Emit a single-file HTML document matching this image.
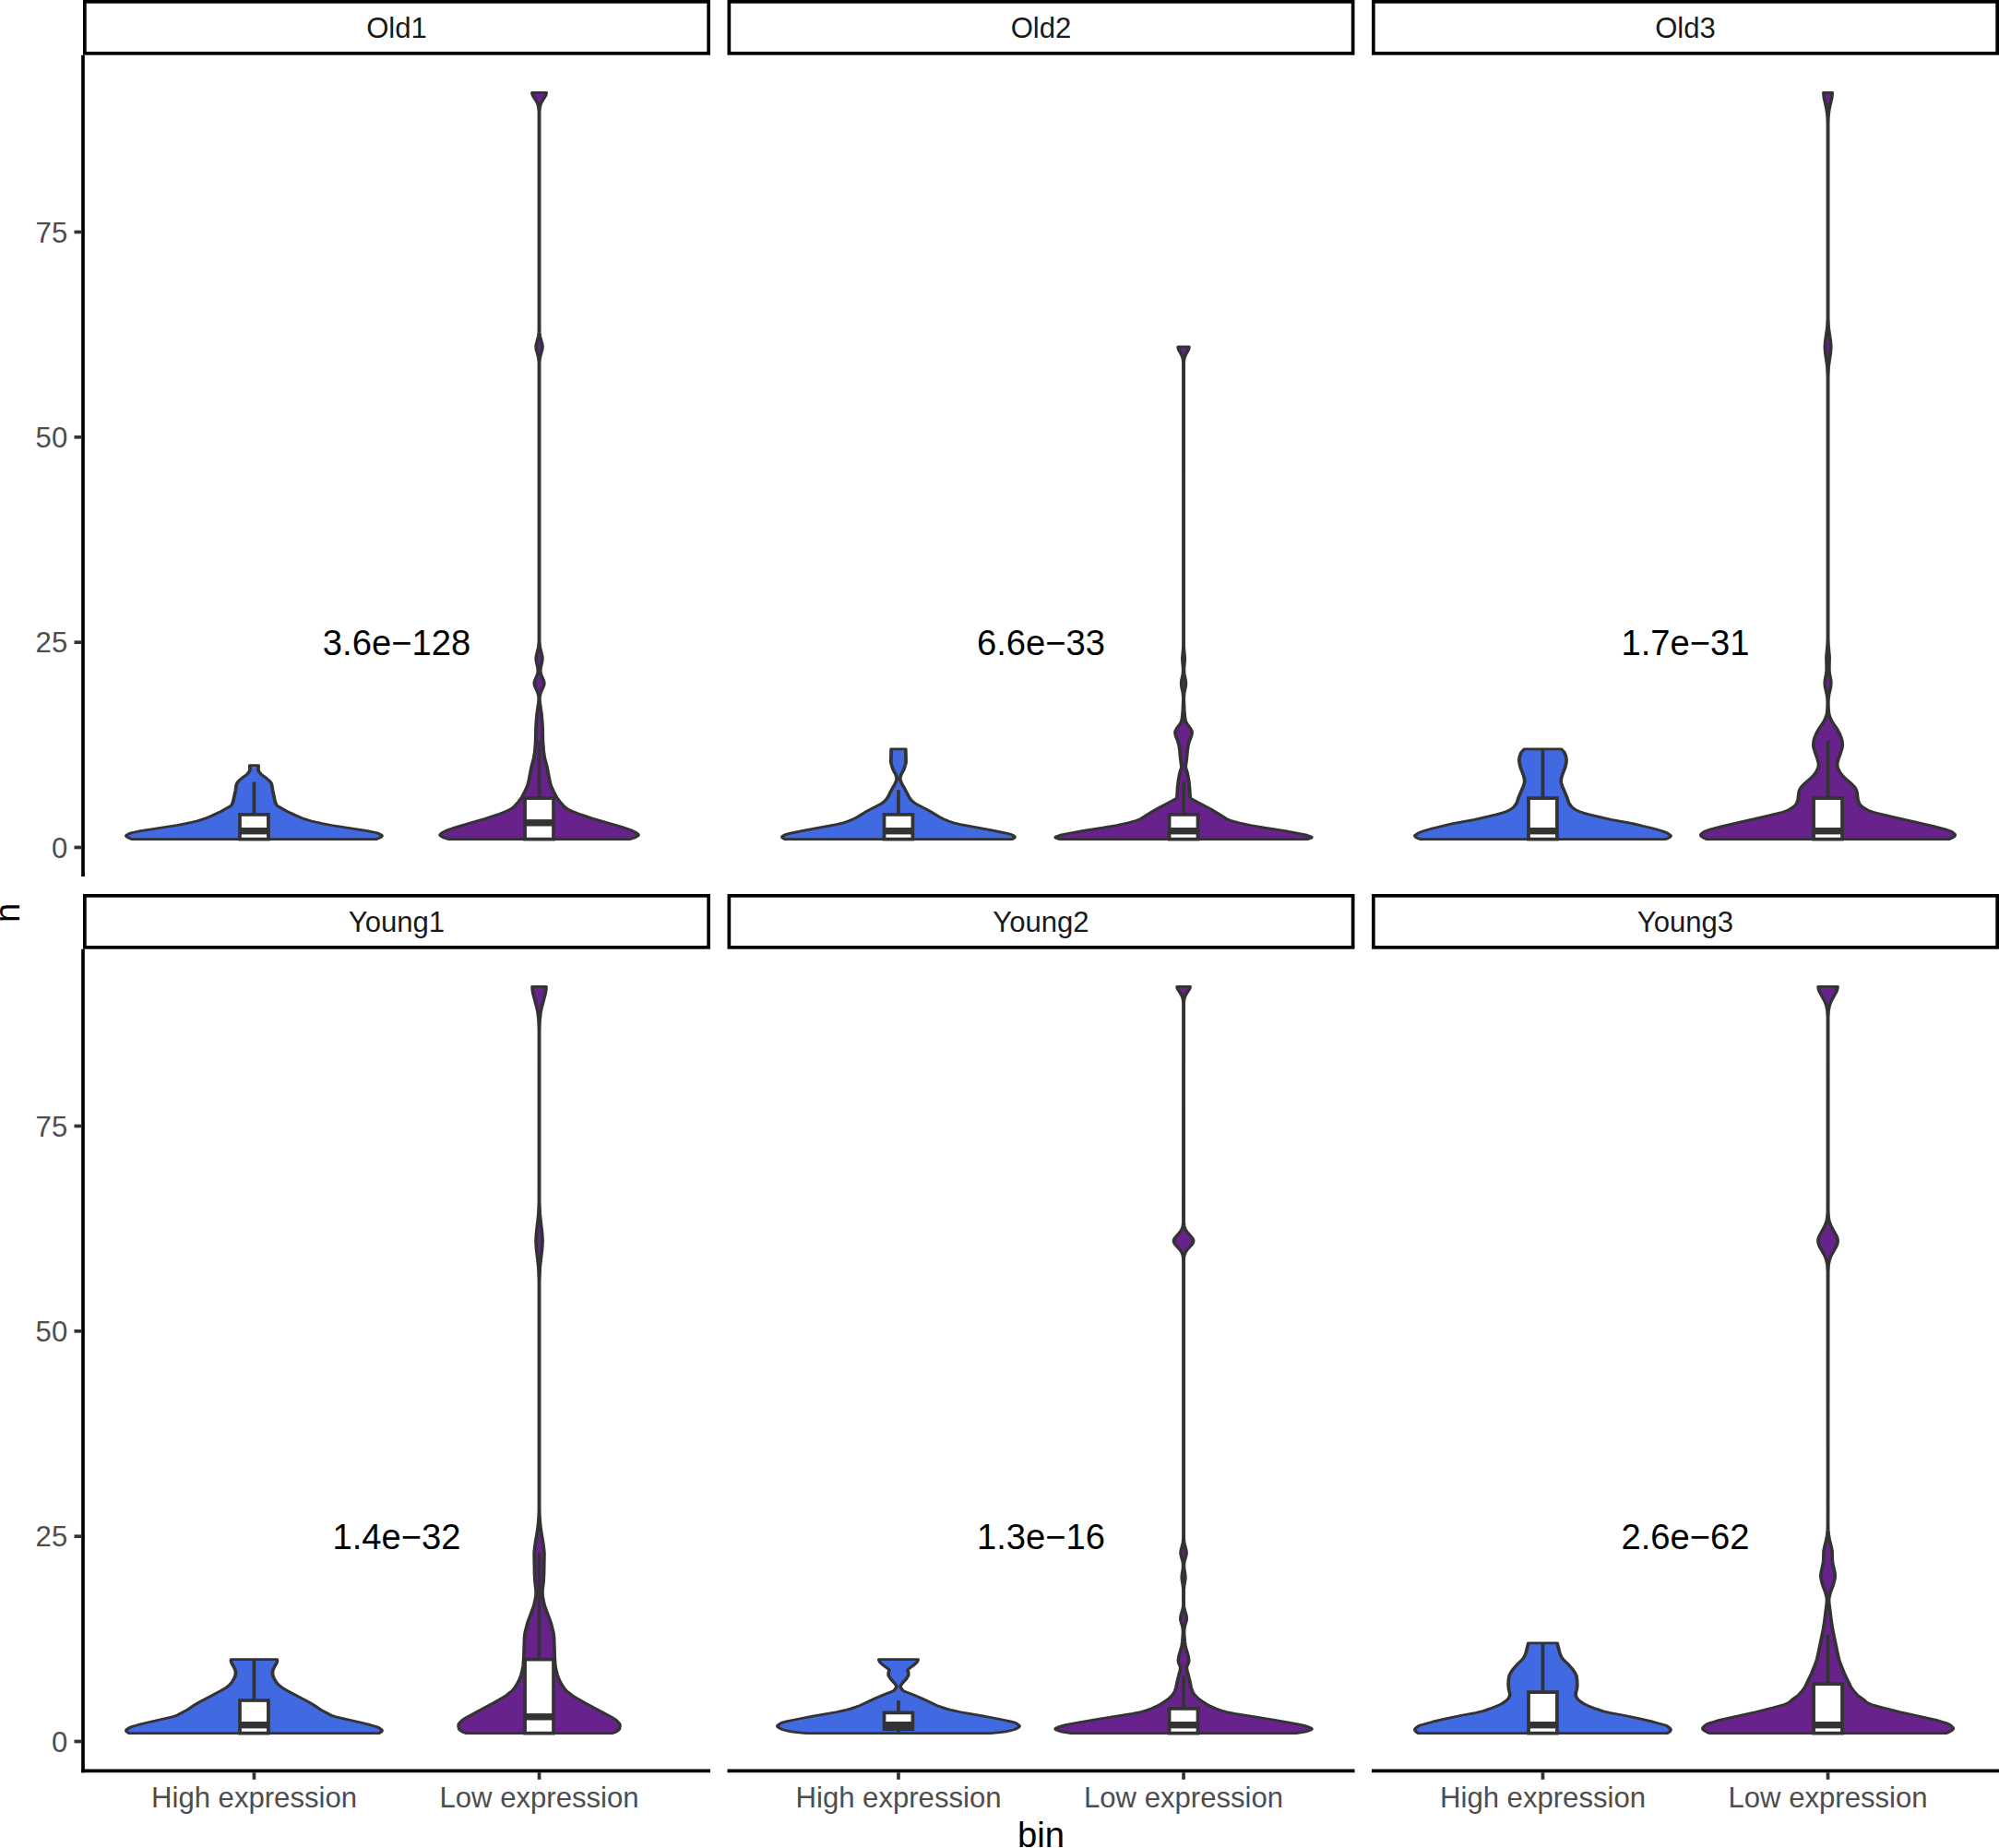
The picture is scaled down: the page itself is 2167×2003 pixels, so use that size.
<!DOCTYPE html>
<html lang="en">
<head>
<meta charset="utf-8">
<title>Violin plots of n by expression bin</title>
<style>
html,body{margin:0;padding:0;background:#fff;}
body{width:2167px;height:2003px;overflow:hidden;}
svg{display:block;}
</style>
</head>
<body>
<svg width="2167" height="2003" viewBox="0 0 2167 2003" role="img" aria-label="Violin plots of n by expression bin for six samples" font-family='"Liberation Sans", sans-serif'>
<rect width="2167" height="2003" fill="#fff"/>
<g id="Old1">
<path transform="scale(1.32,1)" d="M108.68,909.6 L106.55,908.7 L105.19,907.8 L104.12,906.9 L103.68,906.0 L104.08,905.2 L106.44,903.4 L108.62,902.5 L115.55,900.7 L145.13,894.5 L152.79,892.7 L161.60,890.0 L167.95,887.4 L174.61,883.8 L180.29,880.3 L188.94,874.0 L189.81,873.1 L190.35,872.3 L191.01,870.5 L191.46,868.7 L193.50,856.2 L194.12,850.9 L194.49,849.1 L195.42,847.4 L196.67,845.6 L200.02,842.0 L202.79,839.4 L204.46,836.7 L205.16,834.9 L205.27,834.0 L205.19,829.6 L212.16,829.6 L212.09,834.0 L212.19,834.9 L212.89,836.7 L214.56,839.4 L217.34,842.0 L220.69,845.6 L221.94,847.4 L222.87,849.1 L223.24,850.9 L223.86,856.2 L225.89,868.7 L226.34,870.5 L227.00,872.3 L227.55,873.1 L228.41,874.0 L237.07,880.3 L242.75,883.8 L249.40,887.4 L255.76,890.0 L264.56,892.7 L272.23,894.5 L301.81,900.7 L308.73,902.5 L310.91,903.4 L313.27,905.2 L313.68,906.0 L313.24,906.9 L312.16,907.8 L310.80,908.7 L308.68,909.6Z" fill="#4169E1" stroke="#333333" stroke-width="2.803" stroke-linejoin="round"/>
<path d="M275.45,882.9V847.4M275.45,909.6V909.6" stroke="#333333" stroke-width="3.7" fill="none"/>
<rect x="260.00" y="882.9" width="30.91" height="26.7" fill="#fff" stroke="#333333" stroke-width="3.7" stroke-linejoin="miter"/>
<path d="M260.00,900.7H290.91" stroke="#333333" stroke-width="7.4" fill="none"/>
<path transform="scale(1.32,1)" d="M368.60,909.6 L363.95,907.8 L361.90,906.0 L361.45,905.2 L361.65,904.3 L362.38,903.4 L364.45,901.6 L367.39,899.8 L375.11,896.3 L398.66,887.4 L408.76,882.9 L415.45,879.4 L418.41,877.6 L420.74,875.8 L423.05,873.1 L426.00,868.7 L428.41,864.3 L430.68,858.9 L433.19,851.8 L434.12,847.4 L436.59,830.5 L438.43,821.6 L439.26,814.5 L439.89,803.8 L440.13,788.7 L440.59,779.8 L441.02,773.5 L442.41,761.1 L442.61,757.5 L442.44,754.9 L442.02,752.2 L441.30,749.5 L439.18,743.3 L438.89,741.5 L438.89,739.8 L439.41,737.1 L441.45,730.9 L441.90,728.2 L441.84,724.6 L440.47,716.6 L440.32,713.1 L440.60,710.4 L442.29,701.5 L442.76,695.3 L442.76,394.7 L442.70,392.0 L442.39,388.5 L441.96,385.8 L440.46,378.7 L440.28,375.1 L440.60,372.5 L442.26,364.5 L442.64,360.9 L442.76,357.4 L442.76,120.8 L442.44,116.4 L441.69,112.8 L440.71,110.1 L437.79,103.9 L437.27,102.1 L437.08,100.3 L448.60,100.3 L448.41,102.1 L447.89,103.9 L444.97,110.1 L443.99,112.8 L443.24,116.4 L442.91,120.8 L442.91,357.4 L443.03,360.9 L443.41,364.5 L445.07,372.5 L445.39,375.1 L445.22,378.7 L443.72,385.8 L443.29,388.5 L442.98,392.0 L442.91,394.7 L442.92,695.3 L443.39,701.5 L445.08,710.4 L445.36,713.1 L445.21,716.6 L443.83,724.6 L443.78,728.2 L444.23,730.9 L446.26,737.1 L446.78,739.8 L446.78,741.5 L446.49,743.3 L444.38,749.5 L443.66,752.2 L443.24,754.9 L443.06,757.5 L443.26,761.1 L444.66,773.5 L445.09,779.8 L445.54,788.7 L445.78,803.8 L446.42,814.5 L447.25,821.6 L449.09,830.5 L451.56,847.4 L452.48,851.8 L454.99,858.9 L457.26,864.3 L459.67,868.7 L462.63,873.1 L464.94,875.8 L467.27,877.6 L470.23,879.4 L476.92,882.9 L487.02,887.4 L510.56,896.3 L518.28,899.8 L521.23,901.6 L523.29,903.4 L524.02,904.3 L524.22,905.2 L523.77,906.0 L521.72,907.8 L517.08,909.6Z" fill="#68228B" stroke="#333333" stroke-width="2.803" stroke-linejoin="round"/>
<path d="M584.55,865.1V802.9M584.55,909.6V909.6" stroke="#333333" stroke-width="3.7" fill="none"/>
<rect x="569.09" y="865.1" width="30.91" height="44.5" fill="#fff" stroke="#333333" stroke-width="3.7" stroke-linejoin="miter"/>
<path d="M569.09,891.8H600.00" stroke="#333333" stroke-width="7.4" fill="none"/>
<text x="430.0" y="709.9" font-size="38.2" text-anchor="middle" fill="#000">3.6e−128</text>
<rect x="91.85" y="1.85" width="676.30" height="56.00" fill="#fff" stroke="#000" stroke-width="3.7"/>
<text x="430.0" y="41.0" font-size="31.1" text-anchor="middle" fill="#1A1A1A">Old1</text>
</g>
<g id="Old2">
<path transform="scale(1.32,1)" d="M644.66,909.6 L643.24,908.7 L642.47,907.8 L642.36,906.9 L643.03,906.0 L645.77,904.3 L648.36,903.4 L661.27,899.8 L687.01,893.6 L692.77,891.8 L696.72,890.0 L699.89,888.3 L703.96,885.6 L711.69,879.4 L723.33,871.4 L726.12,868.7 L727.57,866.9 L729.04,864.3 L732.47,855.4 L734.84,850.0 L736.05,846.5 L736.44,844.7 L736.41,842.9 L735.63,839.4 L733.37,834.0 L731.90,827.8 L731.67,825.1 L731.94,811.8 L743.75,811.8 L744.02,825.1 L743.79,827.8 L742.32,834.0 L740.06,839.4 L739.28,842.9 L739.25,844.7 L739.64,846.5 L740.84,850.0 L743.21,855.4 L746.65,864.3 L748.12,866.9 L749.57,868.7 L752.36,871.4 L764.00,879.4 L771.73,885.6 L775.80,888.3 L778.97,890.0 L782.92,891.8 L788.68,893.6 L814.42,899.8 L827.33,903.4 L829.92,904.3 L832.66,906.0 L833.33,906.9 L833.22,907.8 L832.45,908.7 L831.03,909.6Z" fill="#4169E1" stroke="#333333" stroke-width="2.803" stroke-linejoin="round"/>
<path d="M973.95,882.9V856.2M973.95,909.6V909.6" stroke="#333333" stroke-width="3.7" fill="none"/>
<rect x="958.50" y="882.9" width="30.91" height="26.7" fill="#fff" stroke="#333333" stroke-width="3.7" stroke-linejoin="miter"/>
<path d="M958.50,900.7H989.41" stroke="#333333" stroke-width="7.4" fill="none"/>
<path transform="scale(1.32,1)" d="M870.49,909.6 L868.02,908.7 L866.84,907.8 L867.07,906.9 L870.75,905.2 L888.62,900.7 L905.55,897.2 L917.07,894.5 L926.63,891.8 L933.62,889.2 L936.89,887.4 L944.39,881.1 L950.11,876.7 L956.28,872.3 L965.49,866.0 L966.30,865.1 L966.61,864.3 L967.05,854.5 L967.77,845.6 L968.94,837.6 L970.28,832.2 L970.37,830.5 L969.51,822.5 L968.91,813.6 L968.40,809.1 L967.46,803.8 L965.59,797.6 L965.11,794.0 L965.38,792.2 L966.31,789.6 L968.82,785.1 L970.14,782.4 L970.41,781.5 L970.90,778.0 L971.49,770.0 L971.89,757.5 L971.56,751.3 L970.45,744.2 L970.20,741.5 L970.34,738.0 L971.45,730.9 L971.73,727.3 L971.69,723.7 L971.17,716.6 L971.10,713.1 L971.79,703.3 L971.93,698.8 L971.91,392.9 L971.62,389.4 L971.07,386.7 L970.16,384.0 L968.27,379.6 L967.76,377.8 L967.57,376.0 L976.44,376.0 L976.25,377.8 L975.74,379.6 L973.85,384.0 L972.94,386.7 L972.39,389.4 L972.09,392.9 L972.08,698.8 L972.21,703.3 L972.90,713.1 L972.83,716.6 L972.31,723.7 L972.28,727.3 L972.56,730.9 L973.67,738.0 L973.81,741.5 L973.56,744.2 L972.44,751.3 L972.12,757.5 L972.52,770.0 L973.11,778.0 L973.60,781.5 L973.87,782.4 L975.19,785.1 L977.70,789.6 L978.63,792.2 L978.90,794.0 L978.42,797.6 L976.55,803.8 L975.61,809.1 L975.10,813.6 L974.50,822.5 L973.64,830.5 L973.73,832.2 L975.06,837.6 L976.24,845.6 L976.95,854.5 L977.39,864.3 L977.71,865.1 L978.52,866.0 L987.73,872.3 L993.90,876.7 L999.62,881.1 L1007.11,887.4 L1010.38,889.2 L1017.38,891.8 L1026.93,894.5 L1038.46,897.2 L1055.39,900.7 L1073.25,905.2 L1076.94,906.9 L1077.16,907.8 L1075.98,908.7 L1073.52,909.6Z" fill="#68228B" stroke="#333333" stroke-width="2.803" stroke-linejoin="round"/>
<path d="M1283.05,882.9V847.4M1283.05,909.6V909.6" stroke="#333333" stroke-width="3.7" fill="none"/>
<rect x="1267.59" y="882.9" width="30.91" height="26.7" fill="#fff" stroke="#333333" stroke-width="3.7" stroke-linejoin="miter"/>
<path d="M1267.59,900.7H1298.50" stroke="#333333" stroke-width="7.4" fill="none"/>
<text x="1128.5" y="709.9" font-size="38.2" text-anchor="middle" fill="#000">6.6e−33</text>
<rect x="790.35" y="1.85" width="676.30" height="56.00" fill="#fff" stroke="#000" stroke-width="3.7"/>
<text x="1128.5" y="41.0" font-size="31.1" text-anchor="middle" fill="#1A1A1A">Old2</text>
</g>
<g id="Old3">
<path transform="scale(1.32,1)" d="M1166.25,909.6 L1164.45,908.7 L1163.14,907.8 L1162.32,906.9 L1162.01,906.0 L1162.29,905.2 L1164.21,903.4 L1165.40,902.5 L1168.98,900.7 L1176.04,898.0 L1193.19,892.7 L1210.96,888.3 L1228.91,882.9 L1233.69,881.1 L1237.31,879.4 L1240.16,877.6 L1242.26,875.8 L1243.60,874.0 L1245.56,870.5 L1247.13,864.3 L1250.85,852.7 L1252.02,848.2 L1252.01,845.6 L1251.68,842.9 L1250.87,839.4 L1248.73,832.2 L1247.91,827.8 L1247.58,824.2 L1247.89,820.7 L1249.05,816.2 L1249.41,815.3 L1251.86,811.8 L1282.16,811.8 L1284.61,815.3 L1284.98,816.2 L1286.13,820.7 L1286.44,824.2 L1286.11,827.8 L1285.29,832.2 L1283.15,839.4 L1282.34,842.9 L1282.01,845.6 L1282.00,848.2 L1283.17,852.7 L1286.89,864.3 L1288.46,870.5 L1290.42,874.0 L1291.77,875.8 L1293.86,877.6 L1296.71,879.4 L1300.33,881.1 L1305.11,882.9 L1323.06,888.3 L1340.84,892.7 L1357.98,898.0 L1365.05,900.7 L1368.62,902.5 L1369.82,903.4 L1371.73,905.2 L1372.01,906.0 L1371.70,906.9 L1370.89,907.8 L1369.57,908.7 L1367.77,909.6Z" fill="#4169E1" stroke="#333333" stroke-width="2.803" stroke-linejoin="round"/>
<path d="M1672.45,865.1V811.8M1672.45,909.6V909.6" stroke="#333333" stroke-width="3.7" fill="none"/>
<rect x="1657.00" y="865.1" width="30.91" height="44.5" fill="#fff" stroke="#333333" stroke-width="3.7" stroke-linejoin="miter"/>
<path d="M1657.00,900.7H1687.91" stroke="#333333" stroke-width="7.4" fill="none"/>
<path transform="scale(1.32,1)" d="M1401.55,909.6 L1398.63,907.8 L1397.69,906.9 L1397.10,906.0 L1396.86,905.2 L1397.01,904.3 L1397.57,903.4 L1399.41,901.6 L1400.69,900.7 L1404.92,898.9 L1414.95,895.4 L1447.26,885.6 L1463.97,880.3 L1466.09,879.4 L1469.12,877.6 L1472.42,874.9 L1474.17,873.1 L1475.23,871.4 L1476.40,867.8 L1476.70,866.0 L1477.27,858.9 L1477.95,856.2 L1478.94,853.6 L1480.69,850.9 L1483.57,847.4 L1487.54,842.9 L1489.42,840.2 L1491.54,836.7 L1493.12,832.2 L1493.62,829.6 L1493.45,826.9 L1492.53,822.5 L1491.04,817.1 L1489.40,810.0 L1489.25,807.3 L1489.58,802.9 L1490.32,799.3 L1491.71,794.9 L1493.91,789.6 L1497.70,782.4 L1499.64,777.1 L1500.41,773.5 L1500.87,767.3 L1500.98,762.0 L1500.90,758.4 L1500.40,753.1 L1498.90,744.2 L1498.66,739.8 L1498.97,736.2 L1499.90,730.0 L1500.20,726.4 L1499.98,712.2 L1500.88,698.8 L1501.09,692.6 L1501.09,407.2 L1500.66,396.5 L1499.07,382.3 L1498.75,376.0 L1499.07,369.8 L1500.66,355.6 L1501.09,345.8 L1501.09,133.2 L1500.92,127.0 L1500.53,121.7 L1499.96,117.2 L1498.00,105.7 L1497.65,100.3 L1504.69,100.3 L1504.34,105.7 L1502.38,117.2 L1501.81,121.7 L1501.42,127.0 L1501.25,133.2 L1501.25,345.8 L1501.68,355.6 L1503.27,369.8 L1503.59,376.0 L1503.27,382.3 L1501.68,396.5 L1501.25,407.2 L1501.25,692.6 L1501.46,698.8 L1502.36,712.2 L1502.14,726.4 L1502.44,730.0 L1503.37,736.2 L1503.68,739.8 L1503.45,744.2 L1501.94,753.1 L1501.44,758.4 L1501.36,762.0 L1501.47,767.3 L1501.93,773.5 L1502.70,777.1 L1504.64,782.4 L1508.44,789.6 L1510.63,794.9 L1512.02,799.3 L1512.76,802.9 L1513.10,807.3 L1512.94,810.0 L1511.30,817.1 L1509.81,822.5 L1508.89,826.9 L1508.73,829.6 L1509.23,832.2 L1510.81,836.7 L1512.93,840.2 L1514.81,842.9 L1518.77,847.4 L1521.65,850.9 L1523.40,853.6 L1524.39,856.2 L1525.07,858.9 L1525.64,866.0 L1525.94,867.8 L1527.11,871.4 L1528.17,873.1 L1529.93,874.9 L1533.22,877.6 L1536.26,879.4 L1538.37,880.3 L1555.08,885.6 L1587.40,895.4 L1597.42,898.9 L1601.65,900.7 L1602.93,901.6 L1604.77,903.4 L1605.33,904.3 L1605.48,905.2 L1605.24,906.0 L1604.65,906.9 L1603.71,907.8 L1600.79,909.6Z" fill="#68228B" stroke="#333333" stroke-width="2.803" stroke-linejoin="round"/>
<path d="M1981.55,865.1V802.9M1981.55,909.6V909.6" stroke="#333333" stroke-width="3.7" fill="none"/>
<rect x="1966.09" y="865.1" width="30.91" height="44.5" fill="#fff" stroke="#333333" stroke-width="3.7" stroke-linejoin="miter"/>
<path d="M1966.09,900.7H1997.00" stroke="#333333" stroke-width="7.4" fill="none"/>
<text x="1827.0" y="709.9" font-size="38.2" text-anchor="middle" fill="#000">1.7e−31</text>
<rect x="1488.85" y="1.85" width="676.30" height="56.00" fill="#fff" stroke="#000" stroke-width="3.7"/>
<text x="1827.0" y="41.0" font-size="31.1" text-anchor="middle" fill="#1A1A1A">Old3</text>
</g>
<g id="Young1">
<path transform="scale(1.32,1)" d="M106.03,1878.6 L104.81,1877.7 L104.02,1876.8 L103.69,1875.9 L103.86,1875.0 L104.50,1874.2 L106.56,1872.4 L108.19,1871.5 L113.04,1869.7 L121.04,1867.0 L141.67,1860.8 L143.95,1859.9 L145.63,1859.0 L153.30,1853.7 L159.24,1848.4 L163.71,1844.8 L181.64,1832.4 L186.14,1828.8 L188.54,1826.1 L190.32,1823.5 L192.34,1819.0 L193.41,1815.5 L193.49,1811.9 L193.17,1810.1 L192.31,1807.5 L190.73,1803.9 L190.14,1802.1 L189.75,1800.3 L189.85,1798.6 L227.50,1798.6 L227.60,1800.3 L227.22,1802.1 L226.63,1803.9 L225.04,1807.5 L224.19,1810.1 L223.86,1811.9 L223.95,1815.5 L225.01,1819.0 L227.03,1823.5 L228.81,1826.1 L231.21,1828.8 L235.72,1832.4 L253.65,1844.8 L258.12,1848.4 L264.06,1853.7 L271.73,1859.0 L273.41,1859.9 L275.69,1860.8 L296.32,1867.0 L304.31,1869.7 L309.17,1871.5 L310.80,1872.4 L312.85,1874.2 L313.50,1875.0 L313.67,1875.9 L313.33,1876.8 L312.55,1877.7 L311.33,1878.6Z" fill="#4169E1" stroke="#333333" stroke-width="2.803" stroke-linejoin="round"/>
<path d="M275.45,1843.0V1798.6M275.45,1878.6V1878.6" stroke="#333333" stroke-width="3.7" fill="none"/>
<rect x="260.00" y="1843.0" width="30.91" height="35.6" fill="#fff" stroke="#333333" stroke-width="3.7" stroke-linejoin="miter"/>
<path d="M260.00,1869.7H290.91" stroke="#333333" stroke-width="7.4" fill="none"/>
<path transform="scale(1.32,1)" d="M382.99,1878.6 L380.89,1877.7 L379.35,1876.8 L377.63,1875.0 L377.17,1874.2 L376.67,1871.5 L376.60,1869.7 L376.80,1868.8 L377.20,1867.9 L379.03,1865.3 L380.64,1863.5 L382.84,1861.7 L405.42,1845.7 L412.44,1840.4 L415.63,1837.7 L419.19,1834.1 L420.73,1832.4 L422.00,1830.6 L423.88,1827.0 L425.76,1822.6 L426.98,1819.0 L427.94,1815.5 L429.03,1810.1 L429.70,1805.7 L430.13,1797.7 L430.73,1774.6 L431.26,1769.2 L433.16,1759.4 L438.60,1739.9 L439.76,1732.8 L440.23,1728.3 L440.24,1723.9 L439.44,1715.0 L439.05,1706.1 L438.74,1683.9 L439.02,1679.4 L439.72,1672.3 L441.33,1659.8 L441.95,1653.6 L442.56,1643.8 L442.76,1636.7 L442.76,1387.7 L442.29,1373.5 L440.50,1353.0 L440.19,1345.0 L440.50,1337.0 L442.29,1316.6 L442.75,1303.2 L442.76,1115.6 L442.47,1105.8 L441.78,1097.8 L440.80,1091.6 L437.89,1077.3 L437.34,1072.9 L437.19,1069.3 L448.48,1069.3 L448.34,1072.9 L447.78,1077.3 L444.87,1091.6 L443.90,1097.8 L443.20,1105.8 L442.91,1115.6 L442.92,1303.2 L443.38,1316.6 L445.18,1337.0 L445.49,1345.0 L445.18,1353.0 L443.38,1373.5 L442.91,1387.7 L442.91,1636.7 L443.12,1643.8 L443.72,1653.6 L444.34,1659.8 L445.96,1672.3 L446.65,1679.4 L446.94,1683.9 L446.62,1706.1 L446.23,1715.0 L445.44,1723.9 L445.45,1728.3 L445.91,1732.8 L447.07,1739.9 L452.52,1759.4 L454.42,1769.2 L454.94,1774.6 L455.55,1797.7 L455.97,1805.7 L456.65,1810.1 L457.73,1815.5 L458.70,1819.0 L459.92,1822.6 L461.79,1827.0 L463.67,1830.6 L464.94,1832.4 L466.48,1834.1 L470.05,1837.7 L473.24,1840.4 L480.26,1845.7 L502.83,1861.7 L505.04,1863.5 L506.64,1865.3 L508.47,1867.9 L508.87,1868.8 L509.08,1869.7 L509.00,1871.5 L508.51,1874.2 L508.04,1875.0 L506.33,1876.8 L504.79,1877.7 L502.69,1878.6Z" fill="#68228B" stroke="#333333" stroke-width="2.803" stroke-linejoin="round"/>
<path d="M584.55,1798.6V1683.0M584.55,1878.6V1878.6" stroke="#333333" stroke-width="3.7" fill="none"/>
<rect x="569.09" y="1798.6" width="30.91" height="80.0" fill="#fff" stroke="#333333" stroke-width="3.7" stroke-linejoin="miter"/>
<path d="M569.09,1860.8H600.00" stroke="#333333" stroke-width="7.4" fill="none"/>
<text x="430.0" y="1678.9" font-size="38.2" text-anchor="middle" fill="#000">1.4e−32</text>
<rect x="91.85" y="970.85" width="676.30" height="56.00" fill="#fff" stroke="#000" stroke-width="3.7"/>
<text x="430.0" y="1010.1" font-size="31.1" text-anchor="middle" fill="#1A1A1A">Young1</text>
</g>
<g id="Young2">
<path transform="scale(1.32,1)" d="M662.09,1878.6 L654.51,1877.7 L649.73,1876.8 L646.35,1875.9 L643.69,1875.0 L641.71,1874.2 L639.35,1872.4 L638.66,1871.5 L638.57,1870.6 L639.03,1869.7 L640.94,1867.9 L642.43,1867.0 L644.92,1866.2 L654.28,1863.5 L668.59,1859.9 L687.62,1855.5 L693.91,1853.7 L699.02,1851.9 L703.04,1850.1 L706.48,1848.4 L718.01,1841.3 L725.96,1836.8 L732.96,1833.3 L734.07,1832.4 L734.75,1831.5 L736.15,1828.8 L736.23,1827.9 L736.08,1827.0 L734.66,1824.4 L731.51,1819.9 L729.92,1816.4 L729.66,1815.5 L729.72,1812.8 L730.34,1810.1 L729.82,1809.2 L724.45,1803.9 L723.03,1802.1 L722.16,1800.3 L721.78,1798.6 L753.90,1798.6 L753.52,1800.3 L752.66,1802.1 L751.24,1803.9 L745.87,1809.2 L745.35,1810.1 L745.97,1812.8 L746.02,1815.5 L745.77,1816.4 L744.18,1819.9 L741.03,1824.4 L739.61,1827.0 L739.45,1827.9 L739.54,1828.8 L740.94,1831.5 L741.62,1832.4 L742.73,1833.3 L749.73,1836.8 L757.68,1841.3 L769.21,1848.4 L772.65,1850.1 L776.67,1851.9 L781.77,1853.7 L788.07,1855.5 L807.10,1859.9 L821.41,1863.5 L830.76,1866.2 L833.26,1867.0 L834.74,1867.9 L836.66,1869.7 L837.12,1870.6 L837.03,1871.5 L836.34,1872.4 L833.98,1874.2 L832.00,1875.0 L829.34,1875.9 L825.96,1876.8 L821.18,1877.7 L813.60,1878.6Z" fill="#4169E1" stroke="#333333" stroke-width="2.803" stroke-linejoin="round"/>
<path d="M973.95,1856.4V1843.0M973.95,1874.2V1878.6" stroke="#333333" stroke-width="3.7" fill="none"/>
<rect x="958.50" y="1856.4" width="30.91" height="17.8" fill="#fff" stroke="#333333" stroke-width="3.7" stroke-linejoin="miter"/>
<path d="M958.50,1869.7H989.41" stroke="#333333" stroke-width="7.4" fill="none"/>
<path transform="scale(1.32,1)" d="M879.58,1878.6 L871.37,1876.8 L869.14,1875.9 L867.57,1875.0 L866.77,1874.2 L867.13,1873.3 L870.07,1871.5 L872.21,1870.6 L875.07,1869.7 L885.23,1867.0 L900.56,1863.5 L930.08,1857.3 L936.89,1855.5 L941.59,1853.7 L945.36,1851.9 L949.95,1849.3 L953.68,1846.6 L956.90,1843.9 L959.70,1841.3 L962.56,1837.7 L964.09,1835.0 L965.03,1832.4 L965.88,1828.8 L966.98,1821.7 L969.05,1811.0 L969.44,1808.4 L969.46,1806.6 L968.19,1803.0 L967.83,1801.2 L967.73,1799.5 L968.20,1795.0 L970.57,1784.3 L971.02,1779.9 L971.59,1771.0 L971.60,1766.6 L971.18,1763.0 L969.79,1756.8 L969.56,1754.1 L969.81,1751.4 L971.56,1743.4 L971.84,1740.8 L971.93,1738.1 L971.87,1722.1 L971.59,1718.5 L970.78,1712.3 L970.64,1709.6 L970.78,1707.0 L971.65,1699.9 L971.71,1695.4 L971.30,1691.9 L969.96,1685.6 L969.73,1683.0 L969.96,1680.3 L971.59,1672.3 L971.93,1667.0 L971.93,1366.4 L971.83,1363.7 L971.52,1361.0 L971.13,1359.3 L970.53,1357.5 L969.19,1354.8 L965.01,1348.6 L964.25,1346.8 L963.97,1345.0 L964.25,1343.2 L965.01,1341.5 L969.19,1335.2 L970.53,1332.6 L971.13,1330.8 L971.52,1329.0 L971.91,1324.6 L971.93,1087.1 L971.67,1083.6 L971.15,1080.9 L970.21,1078.2 L967.19,1072.0 L966.93,1071.1 L966.70,1069.3 L977.31,1069.3 L977.08,1071.1 L976.82,1072.0 L973.80,1078.2 L972.86,1080.9 L972.34,1083.6 L972.08,1087.1 L972.09,1324.6 L972.49,1329.0 L972.88,1330.8 L973.48,1332.6 L974.82,1335.2 L979.00,1341.5 L979.76,1343.2 L980.03,1345.0 L979.76,1346.8 L979.00,1348.6 L974.82,1354.8 L973.48,1357.5 L972.88,1359.3 L972.49,1361.0 L972.18,1363.7 L972.08,1366.4 L972.08,1667.0 L972.42,1672.3 L974.05,1680.3 L974.28,1683.0 L974.05,1685.6 L972.71,1691.9 L972.29,1695.4 L972.36,1699.9 L973.23,1707.0 L973.37,1709.6 L973.23,1712.3 L972.42,1718.5 L972.14,1722.1 L972.08,1738.1 L972.17,1740.8 L972.45,1743.4 L974.20,1751.4 L974.44,1754.1 L974.21,1756.8 L972.83,1763.0 L972.41,1766.6 L972.41,1771.0 L972.99,1779.9 L973.43,1784.3 L975.81,1795.0 L976.28,1799.5 L976.18,1801.2 L975.82,1803.0 L974.55,1806.6 L974.57,1808.4 L974.96,1811.0 L977.03,1821.7 L978.13,1828.8 L978.98,1832.4 L979.92,1835.0 L981.45,1837.7 L984.30,1841.3 L987.10,1843.9 L990.32,1846.6 L994.05,1849.3 L998.65,1851.9 L1002.42,1853.7 L1007.11,1855.5 L1013.92,1857.3 L1043.45,1863.5 L1058.78,1867.0 L1068.94,1869.7 L1071.80,1870.6 L1073.94,1871.5 L1076.88,1873.3 L1077.24,1874.2 L1076.44,1875.0 L1074.86,1875.9 L1072.64,1876.8 L1064.43,1878.6Z" fill="#68228B" stroke="#333333" stroke-width="2.803" stroke-linejoin="round"/>
<path d="M1283.05,1851.9V1816.4M1283.05,1878.6V1878.6" stroke="#333333" stroke-width="3.7" fill="none"/>
<rect x="1267.59" y="1851.9" width="30.91" height="26.7" fill="#fff" stroke="#333333" stroke-width="3.7" stroke-linejoin="miter"/>
<path d="M1267.59,1869.7H1298.50" stroke="#333333" stroke-width="7.4" fill="none"/>
<text x="1128.5" y="1678.9" font-size="38.2" text-anchor="middle" fill="#000">1.3e−16</text>
<rect x="790.35" y="970.85" width="676.30" height="56.00" fill="#fff" stroke="#000" stroke-width="3.7"/>
<text x="1128.5" y="1010.1" font-size="31.1" text-anchor="middle" fill="#1A1A1A">Young2</text>
</g>
<g id="Young3">
<path transform="scale(1.32,1)" d="M1164.74,1878.6 L1163.61,1877.7 L1162.79,1876.8 L1162.26,1875.9 L1162.02,1875.0 L1162.11,1874.2 L1162.57,1873.3 L1164.19,1871.5 L1165.23,1870.6 L1166.88,1869.7 L1176.55,1866.2 L1188.18,1862.6 L1201.27,1859.0 L1212.42,1856.4 L1217.93,1854.6 L1223.87,1851.9 L1230.49,1848.4 L1233.36,1846.6 L1236.43,1843.9 L1237.94,1842.1 L1239.03,1840.4 L1239.74,1838.6 L1240.03,1836.8 L1239.87,1835.0 L1239.00,1830.6 L1238.73,1826.1 L1238.91,1820.8 L1239.31,1817.2 L1239.72,1815.5 L1240.75,1812.8 L1242.50,1809.2 L1246.72,1803.0 L1250.23,1798.6 L1251.74,1795.9 L1252.64,1793.2 L1253.32,1790.6 L1255.19,1780.8 L1278.83,1780.8 L1280.70,1790.6 L1281.39,1793.2 L1282.28,1795.9 L1283.79,1798.6 L1287.30,1803.0 L1291.53,1809.2 L1293.27,1812.8 L1294.30,1815.5 L1294.71,1817.2 L1295.11,1820.8 L1295.29,1826.1 L1295.02,1830.6 L1294.15,1835.0 L1293.99,1836.8 L1294.28,1838.6 L1294.99,1840.4 L1296.08,1842.1 L1297.59,1843.9 L1300.67,1846.6 L1303.54,1848.4 L1310.15,1851.9 L1316.09,1854.6 L1321.60,1856.4 L1332.75,1859.0 L1345.84,1862.6 L1357.47,1866.2 L1367.14,1869.7 L1368.79,1870.6 L1369.83,1871.5 L1371.45,1873.3 L1371.91,1874.2 L1372.00,1875.0 L1371.76,1875.9 L1371.23,1876.8 L1370.41,1877.7 L1369.28,1878.6Z" fill="#4169E1" stroke="#333333" stroke-width="2.803" stroke-linejoin="round"/>
<path d="M1672.45,1834.1V1780.8M1672.45,1878.6V1878.6" stroke="#333333" stroke-width="3.7" fill="none"/>
<rect x="1657.00" y="1834.1" width="30.91" height="44.5" fill="#fff" stroke="#333333" stroke-width="3.7" stroke-linejoin="miter"/>
<path d="M1657.00,1869.7H1687.91" stroke="#333333" stroke-width="7.4" fill="none"/>
<path transform="scale(1.32,1)" d="M1404.20,1878.6 L1402.16,1877.7 L1399.82,1875.9 L1399.00,1875.0 L1398.48,1874.2 L1398.39,1873.3 L1398.67,1872.4 L1399.99,1870.6 L1401.90,1868.8 L1403.40,1867.9 L1407.42,1866.2 L1412.08,1864.4 L1442.16,1855.5 L1455.70,1851.0 L1465.44,1847.5 L1467.27,1846.6 L1469.66,1844.8 L1471.89,1842.1 L1475.73,1838.6 L1477.27,1836.8 L1480.35,1832.4 L1481.76,1829.7 L1482.91,1827.0 L1487.73,1813.7 L1491.02,1803.0 L1492.12,1798.6 L1492.94,1794.1 L1497.25,1766.6 L1498.09,1760.3 L1500.21,1738.1 L1500.38,1735.4 L1500.37,1732.8 L1499.32,1726.5 L1497.21,1719.4 L1496.07,1714.1 L1495.50,1710.5 L1495.34,1707.9 L1495.63,1704.3 L1497.00,1696.3 L1497.41,1692.7 L1497.59,1690.1 L1497.76,1681.2 L1498.59,1675.8 L1499.81,1669.6 L1500.55,1664.3 L1500.98,1658.9 L1501.14,1653.6 L1501.10,1377.9 L1500.74,1370.8 L1499.89,1365.5 L1499.17,1362.8 L1498.23,1360.1 L1494.08,1350.4 L1493.24,1346.8 L1493.17,1344.1 L1493.39,1342.4 L1494.08,1339.7 L1498.23,1329.9 L1499.67,1325.5 L1500.25,1322.8 L1500.64,1320.1 L1501.06,1313.9 L1501.10,1102.2 L1500.74,1095.1 L1499.91,1089.8 L1499.20,1087.1 L1498.27,1084.5 L1494.18,1074.7 L1493.50,1072.0 L1493.25,1069.3 L1509.09,1069.3 L1508.84,1072.0 L1508.16,1074.7 L1504.07,1084.5 L1503.14,1087.1 L1502.43,1089.8 L1501.60,1095.1 L1501.25,1102.2 L1501.28,1313.9 L1501.70,1320.1 L1502.09,1322.8 L1502.67,1325.5 L1504.11,1329.9 L1508.26,1339.7 L1508.95,1342.4 L1509.17,1344.1 L1509.10,1346.8 L1508.26,1350.4 L1504.11,1360.1 L1503.17,1362.8 L1502.45,1365.5 L1501.60,1370.8 L1501.25,1377.9 L1501.20,1653.6 L1501.36,1658.9 L1501.79,1664.3 L1502.53,1669.6 L1503.75,1675.8 L1504.58,1681.2 L1504.75,1690.1 L1504.94,1692.7 L1505.35,1696.3 L1506.71,1704.3 L1507.00,1707.9 L1506.85,1710.5 L1506.27,1714.1 L1505.14,1719.4 L1503.02,1726.5 L1501.97,1732.8 L1501.96,1735.4 L1502.13,1738.1 L1504.25,1760.3 L1505.09,1766.6 L1509.40,1794.1 L1510.22,1798.6 L1511.32,1803.0 L1514.61,1813.7 L1519.43,1827.0 L1520.58,1829.7 L1521.99,1832.4 L1525.07,1836.8 L1526.61,1838.6 L1530.45,1842.1 L1532.69,1844.8 L1535.07,1846.6 L1536.90,1847.5 L1546.65,1851.0 L1560.18,1855.5 L1590.26,1864.4 L1594.92,1866.2 L1598.94,1867.9 L1600.44,1868.8 L1602.35,1870.6 L1603.67,1872.4 L1603.96,1873.3 L1603.86,1874.2 L1603.34,1875.0 L1602.52,1875.9 L1600.18,1877.7 L1598.14,1878.6Z" fill="#68228B" stroke="#333333" stroke-width="2.803" stroke-linejoin="round"/>
<path d="M1981.55,1825.2V1771.9M1981.55,1878.6V1878.6" stroke="#333333" stroke-width="3.7" fill="none"/>
<rect x="1966.09" y="1825.2" width="30.91" height="53.4" fill="#fff" stroke="#333333" stroke-width="3.7" stroke-linejoin="miter"/>
<path d="M1966.09,1869.7H1997.00" stroke="#333333" stroke-width="7.4" fill="none"/>
<text x="1827.0" y="1678.9" font-size="38.2" text-anchor="middle" fill="#000">2.6e−62</text>
<rect x="1488.85" y="970.85" width="676.30" height="56.00" fill="#fff" stroke="#000" stroke-width="3.7"/>
<text x="1827.0" y="1010.1" font-size="31.1" text-anchor="middle" fill="#1A1A1A">Young3</text>
</g>
<g id="axes">
<path d="M90,59.7V950.00" stroke="#000" stroke-width="3.7" fill="none"/>
<path d="M80.5,918.5H89" stroke="#333333" stroke-width="3.7" fill="none"/>
<text x="73.2" y="929.6" font-size="31.1" text-anchor="end" fill="#4D4D4D">0</text>
<path d="M80.5,696.2H89" stroke="#333333" stroke-width="3.7" fill="none"/>
<text x="73.2" y="707.3" font-size="31.1" text-anchor="end" fill="#4D4D4D">25</text>
<path d="M80.5,473.8H89" stroke="#333333" stroke-width="3.7" fill="none"/>
<text x="73.2" y="484.9" font-size="31.1" text-anchor="end" fill="#4D4D4D">50</text>
<path d="M80.5,251.5H89" stroke="#333333" stroke-width="3.7" fill="none"/>
<text x="73.2" y="262.6" font-size="31.1" text-anchor="end" fill="#4D4D4D">75</text>
<path d="M90,1028.7V1921.15" stroke="#000" stroke-width="3.7" fill="none"/>
<path d="M80.5,1887.5H89" stroke="#333333" stroke-width="3.7" fill="none"/>
<text x="73.2" y="1898.6" font-size="31.1" text-anchor="end" fill="#4D4D4D">0</text>
<path d="M80.5,1665.2H89" stroke="#333333" stroke-width="3.7" fill="none"/>
<text x="73.2" y="1676.3" font-size="31.1" text-anchor="end" fill="#4D4D4D">25</text>
<path d="M80.5,1442.8H89" stroke="#333333" stroke-width="3.7" fill="none"/>
<text x="73.2" y="1453.9" font-size="31.1" text-anchor="end" fill="#4D4D4D">50</text>
<path d="M80.5,1220.5H89" stroke="#333333" stroke-width="3.7" fill="none"/>
<text x="73.2" y="1231.6" font-size="31.1" text-anchor="end" fill="#4D4D4D">75</text>
<path d="M88.15,1919.3H770.0" stroke="#000" stroke-width="3.7" fill="none"/>
<path d="M275.45,1921.15V1928.8" stroke="#333333" stroke-width="3.7" fill="none"/>
<text x="275.5" y="1958.6" font-size="31.1" text-anchor="middle" fill="#4D4D4D">High expression</text>
<path d="M584.55,1921.15V1928.8" stroke="#333333" stroke-width="3.7" fill="none"/>
<text x="584.5" y="1958.6" font-size="31.1" text-anchor="middle" fill="#4D4D4D">Low expression</text>
<path d="M788.50,1919.3H1468.5" stroke="#000" stroke-width="3.7" fill="none"/>
<path d="M973.95,1921.15V1928.8" stroke="#333333" stroke-width="3.7" fill="none"/>
<text x="974.0" y="1958.6" font-size="31.1" text-anchor="middle" fill="#4D4D4D">High expression</text>
<path d="M1283.05,1921.15V1928.8" stroke="#333333" stroke-width="3.7" fill="none"/>
<text x="1283.0" y="1958.6" font-size="31.1" text-anchor="middle" fill="#4D4D4D">Low expression</text>
<path d="M1487.00,1919.3H2167.0" stroke="#000" stroke-width="3.7" fill="none"/>
<path d="M1672.45,1921.15V1928.8" stroke="#333333" stroke-width="3.7" fill="none"/>
<text x="1672.5" y="1958.6" font-size="31.1" text-anchor="middle" fill="#4D4D4D">High expression</text>
<path d="M1981.55,1921.15V1928.8" stroke="#333333" stroke-width="3.7" fill="none"/>
<text x="1981.5" y="1958.6" font-size="31.1" text-anchor="middle" fill="#4D4D4D">Low expression</text>
</g>
<text x="1128.5" y="2002.3" font-size="38.2" text-anchor="middle" fill="#000">bin</text>
<text transform="translate(20.6,989.4) rotate(-90)" font-size="38.2" text-anchor="middle" fill="#000">n</text>
</svg>
</body>
</html>
